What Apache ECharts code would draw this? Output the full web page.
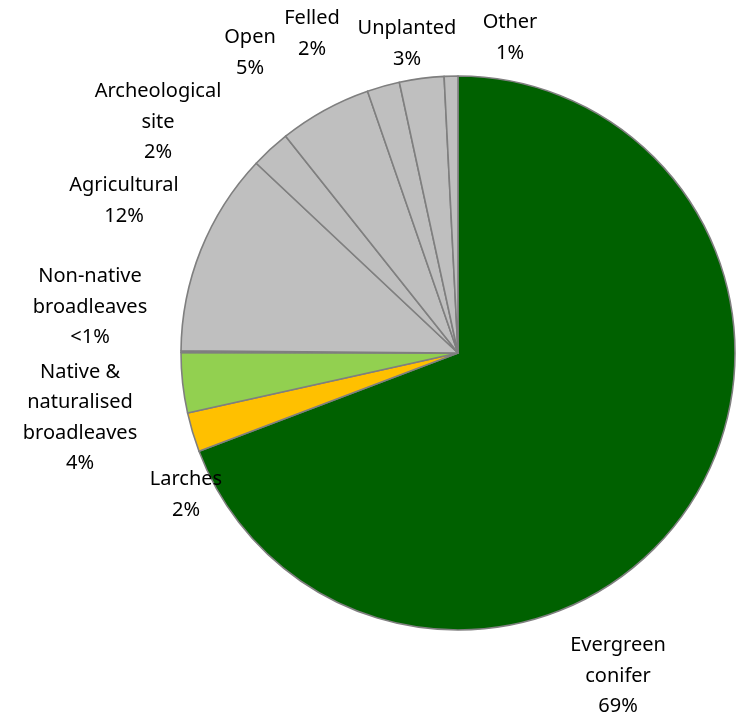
<!DOCTYPE html>
<html><head><meta charset="utf-8">
<script src="https://cdn.jsdelivr.net/npm/echarts@6/dist/echarts.min.js"></script>
<style>html,body{margin:0;padding:0;background:#fff}#c{width:742px;height:724px}</style>
</head><body><div id="c"></div>
<script>
const categories = ["Evergreen\nconifer","Larches","Native &\nnaturalised\nbroadleaves","Non-native\nbroadleaves","Agricultural","Archeological\nsite","Open","Felled","Unplanted","Other"];
const values = [69.3, 2.3, 3.5, 0.1, 11.9, 2.3, 5.4, 1.9, 2.6, 0.8];
const pctLabels = ["69%","2%","4%","<1%","12%","2%","5%","2%","3%","1%"];
const colors = ["#006100","#FFC000","#92D050","#BFBFBF","#BFBFBF","#BFBFBF","#BFBFBF","#BFBFBF","#BFBFBF","#BFBFBF"];
// label centre positions (layout only)
const labelPos = [[618,676],[186,495],[80,418],[90,307],[124,201],[158,122],[250,53],[312,34],[407,44],[510,38]];

const chart = echarts.init(document.getElementById('c'));
chart.setOption({
  animation:false,
  series:[{
    type:'pie',
    center:[458,353],
    radius:277,
    startAngle:90,
    clockwise:true,
    avoidLabelOverlap:false,
    data: categories.map((n,i)=>({name:n,value:values[i],itemStyle:{color:colors[i]}})),
    itemStyle:{borderColor:'#7F7F7F',borderWidth:1.6},
    label:{show:true,position:'outside',formatter:p=>p.name+'\n'+pctLabels[p.dataIndex],
      fontFamily:'Noto Sans',fontSize:20,lineHeight:30.5,color:'#000',align:'center'},
    labelLine:{show:false},
    emphasis:{disabled:true},
    labelLayout:function(params){
      const p = labelPos[params.dataIndex];
      return {x:p[0],y:p[1],align:'center',verticalAlign:'middle'};
    }
  }]
});
</script></body></html>
